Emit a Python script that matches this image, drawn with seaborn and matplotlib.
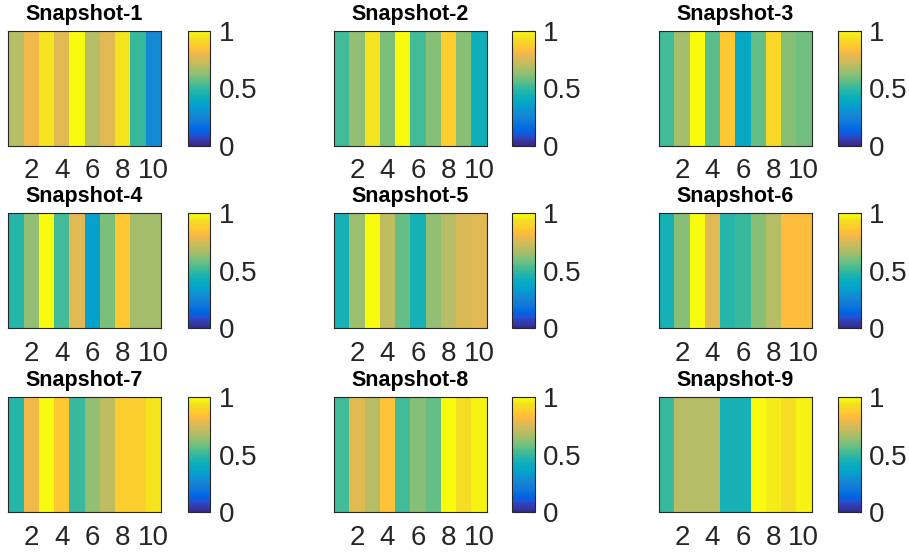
import numpy as np
import pandas as pd
import matplotlib
matplotlib.use("Agg")
import matplotlib.pyplot as plt
import seaborn as sns
from matplotlib.colors import ListedColormap

# ---------------- data ----------------
titles = ["Snapshot-1", "Snapshot-2", "Snapshot-3",
          "Snapshot-4", "Snapshot-5", "Snapshot-6",
          "Snapshot-7", "Snapshot-8", "Snapshot-9"]
columns = list(range(1, 11))
snap1 = [0.69, 0.80, 0.95, 0.77, 1.00, 0.70, 0.78, 0.95, 0.50, 0.28]
snap2 = [0.52, 0.63, 0.95, 0.60, 1.00, 0.52, 0.62, 0.89, 0.62, 0.43]
snap3 = [0.52, 0.67, 1.00, 0.55, 0.87, 0.40, 0.57, 0.91, 0.62, 0.58]
snap4 = [0.48, 0.63, 1.00, 0.52, 0.78, 0.35, 0.60, 0.87, 0.66, 0.66]
snap5 = [0.45, 0.65, 1.00, 0.71, 0.57, 0.45, 0.63, 0.69, 0.75, 0.77]
snap6 = [0.45, 0.62, 1.00, 0.77, 0.47, 0.50, 0.62, 0.69, 0.83, 0.83]
snap7 = [0.48, 0.80, 1.00, 0.86, 0.50, 0.64, 0.71, 0.89, 0.89, 0.95]
snap8 = [0.52, 0.78, 0.69, 0.85, 0.52, 0.62, 0.57, 1.00, 0.93, 0.97]
snap9 = [0.50, 0.69, 0.69, 0.69, 0.45, 0.45, 1.00, 0.96, 0.93, 0.98]
snapshots = [snap1, snap2, snap3, snap4, snap5, snap6, snap7, snap8, snap9]
xtick_values = [2, 4, 6, 8, 10]
xtick_labels = ["2", "4", "6", "8", "10"]
cbar_ticks = [0, 0.5, 1]
cbar_labels = ["0", "0.5", "1"]

# ---------------- parula colormap ----------------
parula_data = [[0.2081, 0.1663, 0.5292], [0.2116238095, 0.1897809524, 0.5776761905],
 [0.212252381, 0.2137714286, 0.6269714286], [0.2081, 0.2386, 0.6770857143],
 [0.1959047619, 0.2644571429, 0.7279], [0.1707285714, 0.2919380952, 0.779247619],
 [0.1252714286, 0.3242428571, 0.8302714286], [0.0591333333, 0.3598333333, 0.8683333333],
 [0.0116952381, 0.3875095238, 0.8819571429], [0.0059571429, 0.4086142857, 0.8828428571],
 [0.0165142857, 0.4266, 0.8786333333], [0.032852381, 0.4430428571, 0.8719571429],
 [0.0498142857, 0.4585714286, 0.8640571429], [0.0629333333, 0.4736904762, 0.8554380952],
 [0.0722666667, 0.4886666667, 0.8467], [0.0779428571, 0.5039857143, 0.8383714286],
 [0.079347619, 0.5200238095, 0.8311809524], [0.0749428571, 0.5375428571, 0.8262714286],
 [0.0640571429, 0.5569857143, 0.8239571429], [0.0487714286, 0.5772238095, 0.8228285714],
 [0.0343428571, 0.5965809524, 0.819852381], [0.0265, 0.6137, 0.8135],
 [0.0238904762, 0.6286619048, 0.8037619048], [0.0230904762, 0.6417857143, 0.7912666667],
 [0.0227714286, 0.6534857143, 0.7767571429], [0.0266619048, 0.6641952381, 0.7607190476],
 [0.0383714286, 0.6742714286, 0.743552381], [0.0589714286, 0.6837571429, 0.7253857143],
 [0.0843, 0.6928333333, 0.7061666667], [0.1132952381, 0.7015, 0.6858571429],
 [0.1452714286, 0.7097571429, 0.6646285714], [0.1801333333, 0.7176571429, 0.6424333333],
 [0.2178285714, 0.7250428571, 0.6192619048], [0.2586428571, 0.7317142857, 0.5954285714],
 [0.3021714286, 0.7376047619, 0.5711857143], [0.3481666667, 0.7424333333, 0.5472666667],
 [0.3952571429, 0.7459, 0.5244428571], [0.4420095238, 0.7480809524, 0.5033142857],
 [0.4871238095, 0.7490619048, 0.4839761905], [0.5300285714, 0.7491142857, 0.4661142857],
 [0.5708571429, 0.7485190476, 0.4493904762], [0.609852381, 0.7473142857, 0.4336857143],
 [0.6473, 0.7456, 0.4188], [0.6834190476, 0.7434761905, 0.4044333333],
 [0.7184095238, 0.7411333333, 0.3904761905], [0.7524857143, 0.7384, 0.3768142857],
 [0.7858428571, 0.7355666667, 0.3632714286], [0.8185047619, 0.7327333333, 0.3497904762],
 [0.8506571429, 0.7299, 0.3360285714], [0.8824333333, 0.7274333333, 0.3217],
 [0.9139333333, 0.7257857143, 0.3062761905], [0.9449571429, 0.7261142857, 0.2886428571],
 [0.9738952381, 0.7313952381, 0.266647619], [0.9937714286, 0.7454571429, 0.240347619],
 [0.9990428571, 0.7653142857, 0.2164142857], [0.9955333333, 0.7860571429, 0.196652381],
 [0.988, 0.8066, 0.1793666667], [0.9788571429, 0.8271428571, 0.1633142857],
 [0.9697, 0.8481380952, 0.147452381], [0.9625857143, 0.8705142857, 0.1309],
 [0.9588714286, 0.8949, 0.1132428571], [0.9598238095, 0.9218333333, 0.0948380952],
 [0.9661, 0.9514428571, 0.0755333333], [0.9763, 0.9831, 0.0538]]
parula = ListedColormap(parula_data, name="parula")

# ---------------- layout ----------------
sns.set_style("white")
plt.rcParams["font.family"] = ["Liberation Sans", "DejaVu Sans"]
W, H = 909, 554
fig = plt.figure(figsize=(W / 100, H / 100), dpi=100)
fig.patch.set_facecolor("white")

col_x = [8.3, 334.0, 659.0]
ax_w = 152.5
cbar_x = [188.0, 512.0, 838.0]
cbar_w = 22.5
row_top = [30.7, 213.3, 397.3]
ax_h = 115.0
axis_grey = (0.15, 0.15, 0.15)

for i, (title, vals) in enumerate(zip(titles, snapshots)):
    r, c = divmod(i, 3)
    ax = fig.add_axes([col_x[c] / W, 1 - (row_top[r] + ax_h) / H, ax_w / W, ax_h / H])
    cax = fig.add_axes([cbar_x[c] / W, 1 - (row_top[r] + ax_h) / H, cbar_w / W, ax_h / H])
    df = pd.DataFrame([vals], columns=columns)
    sns.heatmap(df, ax=ax, cbar_ax=cax, cmap=parula, vmin=0, vmax=1,
                xticklabels=False, yticklabels=False, linewidths=0)
    ax.set_xticks([columns.index(v) + 0.5 for v in xtick_values])
    ax.set_xticklabels(xtick_labels, rotation=0)
    ax.set_yticks([])
    ax.tick_params(axis="x", direction="in", top=True, bottom=True, length=4,
                   width=0.8, color=axis_grey, labelcolor=axis_grey, labelsize=20, pad=9)
    for s in ax.spines.values():
        s.set_visible(True)
        s.set_color(axis_grey)
        s.set_linewidth(0.8)
    ax.set_xlabel("")
    ax.set_ylabel("")
    ax.set_title(title, fontsize=15.5, fontweight="bold", color="black", pad=8)

    cbar = ax.collections[0].colorbar
    cbar.set_ticks(cbar_ticks)
    cbar.set_ticklabels(cbar_labels)
    cbar.outline.set_visible(True)
    cbar.outline.set_linewidth(0.8)
    cbar.outline.set_edgecolor(axis_grey)
    cax.tick_params(direction="in", length=3, width=0.8, color=axis_grey,
                    labelcolor=axis_grey, labelsize=20, pad=6, right=True, left=False)

fig.savefig("out.png", dpi=100, facecolor="white")
